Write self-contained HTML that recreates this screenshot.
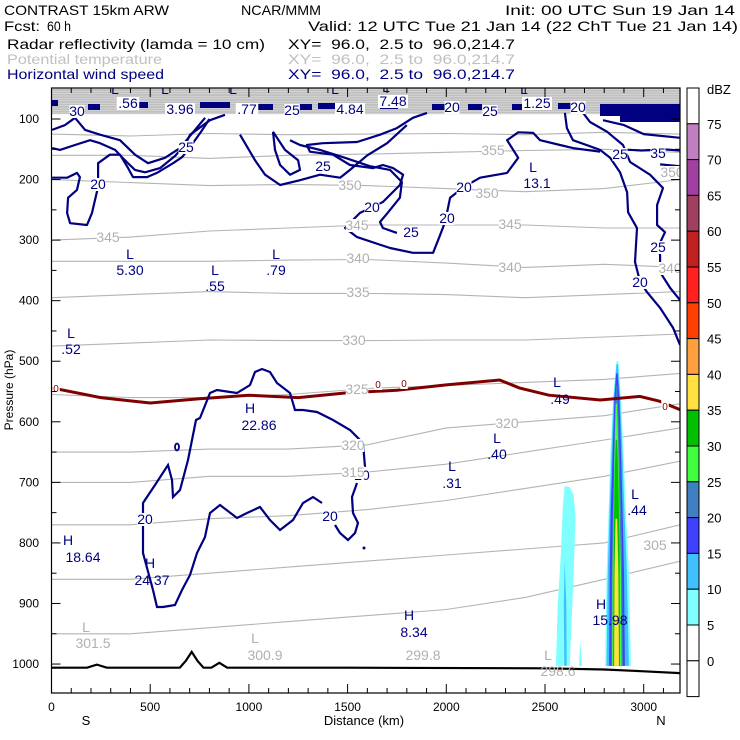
<!DOCTYPE html>
<html><head><meta charset="utf-8">
<style>
html,body{margin:0;padding:0;background:#fff;}
svg{display:block;font-family:"Liberation Sans",sans-serif;}
text{white-space:pre;}
</style></head>
<body>
<svg id="chart" width="740" height="740" viewBox="0 0 740 740" xmlns="http://www.w3.org/2000/svg" xml:space="preserve">
  <g font-size="14">
    <text x="4" y="15" textLength="165" lengthAdjust="spacingAndGlyphs">CONTRAST 15km ARW</text>
    <text x="241" y="15" textLength="80" lengthAdjust="spacingAndGlyphs">NCAR/MMM</text>
    <text x="505" y="15" textLength="230" lengthAdjust="spacingAndGlyphs">Init: 00 UTC Sun 19 Jan 14</text>
    <text x="4" y="31" textLength="36" lengthAdjust="spacingAndGlyphs">Fcst:</text>
    <text x="47" y="31" textLength="24" lengthAdjust="spacingAndGlyphs">60 h</text>
    <text x="308" y="31" textLength="430" lengthAdjust="spacingAndGlyphs">Valid: 12 UTC Tue 21 Jan 14 (22 ChT Tue 21 Jan 14)</text>
    <text x="7" y="49" textLength="258" lengthAdjust="spacingAndGlyphs">Radar reflectivity (lamda = 10 cm)</text>
    <text x="288" y="49" textLength="227" lengthAdjust="spacingAndGlyphs">XY=  96.0,  2.5 to  96.0,214.7</text>
    <text x="7" y="64" fill="#c0c0c0" textLength="155" lengthAdjust="spacingAndGlyphs">Potential temperature</text>
    <text x="288" y="64" fill="#c0c0c0" textLength="227" lengthAdjust="spacingAndGlyphs">XY=  96.0,  2.5 to  96.0,214.7</text>
    <text x="7" y="79" fill="#000080" textLength="157" lengthAdjust="spacingAndGlyphs">Horizontal wind speed</text>
    <text x="288" y="79" fill="#000080" textLength="227" lengthAdjust="spacingAndGlyphs">XY=  96.0,  2.5 to  96.0,214.7</text>
  </g>
  <g id="plot"></g>
</svg>
<script>
// ---- data ----
const xTicks = [0,500,1000,1500,2000,2500,3000];
const yTicks = [100,200,300,400,500,600,700,800,900,1000];
const thetaKm = [0,400,800,1200,1600,2000,2400,2800,3185];
const thetaValues = [360,355,350,345,340,335,330,325,320,315,310,305,300];
const theta360 = [125,128,124,126,125,124,126,122,125];
const theta355 = [160,160,165,160,158,155,152,150,155];
const theta350 = [200,205,210,208,210,215,220,215,200];
const theta345 = [300,295,285,280,275,275,275,280,280];
const theta340 = [335,335,335,333,332,338,345,340,345];
const theta335 = [395,390,385,388,388,390,395,390,385];
const theta330 = [475,470,465,466,466,465,465,460,455];
const theta325 = [555,560,560,555,545,540,535,530,520];
const theta320 = [650,650,645,645,638,610,600,590,570];
const theta315 = [700,700,690,690,683,670,650,630,610];
const theta310 = [770,770,760,755,745,730,710,690,665];
const theta305 = [860,860,850,840,830,820,810,800,770];
const theta300 = [950,950,940,930,920,910,890,860,830];
const thetaSeries = [theta360,theta355,theta350,theta345,theta340,theta335,theta330,theta325,theta320,theta315,theta310,theta305,theta300];
const topBandP = [50,54,58,62,66,70,74,78,82,86,90];

const freezeKm = [0,250,500,750,1000,1250,1500,1750,2000,2270,2370,2520,2780,2980,3080,3185];
const freezeP  = [544,560,569,562,556,560,552,548,539,531,544,556,564,558,566,580];

const sfcKm = [0,180,230,280,650,680,710,740,770,810,850,890,1500,2500,2800,3000,3185];
const sfcP  = [1006,1006,1001,1006,1006,995,980,995,1006,1006,998,1006,1006,1007,1009,1012,1015];

const windW1 = [[3,197],[79,197],[129,189],[144,196],[129,217],[84,230],[79,255],[94,272],[180,275],[205,255],[236,212],[236,173],[296,159],[347,159],[388,181],[413,196],[484,196],[534,189],[616,173],[661,163],[692,151],[760,120],[800,100]];
const windW2 = [[3,148],[43,151],[119,143],[195,135],[246,140],[322,151],[372,168],[423,184],[474,188],[550,181],[626,161],[676,143],[702,126],[803,102],[879,93]];
const windW3 = [[3,118],[68,110],[119,98],[170,118],[246,126],[347,135],[423,159],[489,173],[575,164],[651,148],[727,118],[778,98]];
const windLoop = [[1122,121],[1183,151],[1249,168],[1259,184],[1208,192],[1158,176],[1132,151],[1122,121]];
const windM3 = [[955,126],[1031,168],[1082,192],[1158,209],[1259,201],[1360,192],[1462,197],[1512,184],[1600,160],[1700,140],[1800,110]];
const windM1 = [[1902,90],[1831,98],[1750,115],[1664,126],[1548,138],[1375,140],[1294,143],[1309,154],[1426,159],[1512,176],[1629,181],[1679,176],[1730,181],[1781,192],[1765,209],[1679,237],[1563,255],[1487,280],[1548,295],[1715,313],[1831,321],[1933,321],[1968,292],[1994,270],[2019,230],[2090,212],[2171,197],[2308,189],[2364,164],[2308,135],[2364,122],[2440,123],[2475,135],[2576,143],[2642,148],[2779,154]];
const windM2 = [[1750,288],[1679,280],[1664,270],[1705,254],[1765,230],[1775,204],[1715,184],[1613,178],[1487,164],[1360,151],[1259,143],[1208,135]];
const windR20 = [[2601,90],[2611,115],[2642,135],[2779,151],[2830,164],[2880,188],[2916,221],[2921,254],[2966,280],[2956,336],[2982,369],[3017,386],[3083,412],[3149,445],[3184,473]];
const windR25 = [[2693,90],[2728,105],[2814,121],[2895,143],[2931,171],[3032,192],[3098,214],[3068,242],[3068,275],[3108,287],[3073,311],[3083,325],[3083,353],[3134,379],[3184,399]];
const windR30 = [[2794,102],[2900,110],[3000,125],[3184,131]];
const windR35 = [[2880,150],[2990,152],[3100,150],[3184,152]];
const windR40 = [[3083,175],[3184,178]];
const windMid = [[153,590],[143,553],[143,503],[155,485],[168,465],[172,480],[173,497],[180,490],[188,460],[196,420],[200,418],[210,393],[217,390],[230,392],[237,393],[250,385],[255,372],[262,369],[270,372],[277,383],[290,393],[295,410],[303,410],[317,412],[333,420],[350,430],[363,443],[365,467]];
const windMid2 = [[357,483],[352,497],[353,513],[358,523],[355,533],[348,540],[340,533],[335,525]];
const windMid3 = [[322,503],[313,497],[303,503],[293,520],[280,530],[270,520],[260,507],[247,513],[237,518],[220,505],[210,513],[205,537],[197,553],[190,575],[182,590],[175,605],[163,607],[157,607],[153,590]];

const dbzLevels = [5,10,15,20,25,30,35];
const dbzColors = ["#80ffff","#40c0ff","#4040ff","#4080c0","#40ff40","#00c000","#ffe040"];
const cell5  = [[2862,500],[2845,560],[2832,650],[2822,750],[2812,850],[2805,1003],[2935,1003],[2925,850],[2910,750],[2898,650],[2885,560],[2872,500]];
const cell10 = [[2862,505],[2848,560],[2837,650],[2827,750],[2818,850],[2812,1003],[2925,1003],[2915,850],[2902,750],[2892,650],[2880,560],[2870,505]];
const cell15 = [[2860,520],[2852,560],[2843,650],[2833,750],[2828,850],[2825,1003],[2905,1003],[2900,850],[2893,750],[2885,650],[2877,560],[2868,520]];
const cell20 = [[2860,540],[2853,600],[2847,700],[2840,800],[2835,1003],[2895,1003],[2890,800],[2882,700],[2875,600],[2866,540]];
const cell25 = [[2858,570],[2852,650],[2847,750],[2842,850],[2840,1003],[2888,1003],[2885,850],[2878,750],[2872,650],[2865,570]];
const cell30 = [[2858,630],[2852,700],[2848,800],[2845,1003],[2880,1003],[2878,800],[2872,700],[2866,630]];
const cell35 = [[2857,760],[2852,850],[2850,1003],[2875,1003],[2872,850],[2866,760]];
const cells = [cell5,cell10,cell15,cell20,cell25,cell30,cell35];
const plume5 = [[2600,706],[2590,740],[2580,820],[2565,900],[2555,1003],[2625,1003],[2632,950],[2645,850],[2655,760],[2645,720],[2625,708]];
const plume10 = [[2600,830],[2595,900],[2598,1003],[2610,1003],[2608,900]];
const plumeSmall = [[2678,960],[2672,1003],[2688,1003]];

const cbLevels = [75,70,65,60,55,50,45,40,35,30,25,20,15,10,5,0];
const cbColors = ["#ffffff","#c080c0","#a040a0","#a04060","#c02020","#ff2020","#ff4000","#ffa040","#ffe040","#00c000","#40ff40","#4080c0","#4040ff","#40c0ff","#80ffff","#ffffff","#ffffff"];

// ---- scales ----
const X = km => 51.5 + km*0.1974;
const Y = p => 119 + (p-100)*0.6056;
const L = 51.5, R = 680, T = 88, B = 693;
const NS = "http://www.w3.org/2000/svg";
const plot = document.getElementById('plot');
function mk(tag, attrs, parent){ const e=document.createElementNS(NS,tag); for(const k in attrs) e.setAttribute(k,attrs[k]); (parent||plot).appendChild(e); return e; }
function ptsStr(arr){ return arr.map(d=>X(d[0]).toFixed(1)+","+Y(d[1]).toFixed(1)).join(" "); }

const defs = mk('defs',{});
const cp = mk('clipPath',{id:'clip'},defs);
mk('rect',{x:L,y:T,width:R-L,height:B-T},cp);
const g = mk('g',{'clip-path':'url(#clip)'});



// top gray band
const band = mk('rect',{x:L,y:T,width:R-L,height:Y(92)-T,fill:'#c0c0c0'},g);


topBandP.forEach(p=>{
  const ln = mk('line',{x1:L,x2:R,y1:Y(p),y2:Y(p)+1,stroke:'#e4e4e4','stroke-width':0.5},g);
  
  
});

thetaSeries.forEach((s,i)=>{
  const pl = mk('polyline',{points:ptsStr(thetaKm.map((k,j)=>[k,s[j]])),fill:'none',stroke:'#b4b4b4','stroke-width':1.1},g);
  
  
});

[plume5,plume10,plumeSmall].forEach((poly,i)=>{
  const e = mk('polygon',{points:ptsStr(poly),fill:i===1?dbzColors[1]:dbzColors[0]},g);
  
  
});
cells.forEach((poly,i)=>{
  const e = mk('polygon',{points:ptsStr(poly),fill:dbzColors[i]},g);
  
  
});

const fz = mk('polyline',{points:ptsStr(freezeKm.map((k,i)=>[k,freezeP[i]])),fill:'none',stroke:'#800000','stroke-width':3},g);



[windW1,windW2,windW3,windLoop,windM3,windM1,windM2,windR20,windR25,windR30,windR35,windR40].forEach(c=>{
  const e = mk('polyline',{points:ptsStr(c),fill:'none',stroke:'#000080','stroke-width':2.2,'stroke-linejoin':'round'},g);
  
  
});
const pxToKm = x => (x-51.5)/0.1974, pxToP = y => 100+(y-119)/0.6056;
[windMid,windMid2,windMid3].forEach(c=>{
  const e = mk('polyline',{points:ptsStr(c.map(d=>[pxToKm(d[0]),pxToP(d[1])])),fill:'none',stroke:'#000080','stroke-width':2.2},g);
  
  
});
const dot1 = mk('ellipse',{cx:177,cy:447,rx:2,ry:3.5,fill:'none',stroke:'#000080','stroke-width':1.8},g);


const dot2 = mk('circle',{cx:364,cy:548,r:1.5,fill:'#000080'},g);



const navyBars = [[52,100,6],[88,104,12],[132,102,16],[200,102,30],[257,104,16],[300,104,12],[318,103,18],[380,103,18],[432,104,16],[468,104,14],[512,104,14],[558,103,14],[600,104,80],[600,110,80],[620,116,60]];
navyBars.forEach(b=>{
  const e = mk('rect',{x:b[0],y:b[1],width:b[2],height:6,fill:'#000080'},g);
  
  
});

const sfc = mk('polyline',{points:ptsStr(sfcKm.map((k,i)=>[k,sfcP[i]])),fill:'none',stroke:'#000','stroke-width':2.2},g);



function lab(x,y,t,col,name,bg,size){
  if(bg){ const w=t.length*7.5; const r=mk('rect',{x:x-w/2,y:y-11,width:w,height:13,fill:bg},g);
      }
  const e = mk('text',{x:x,y:y,'text-anchor':'middle','font-size':size||14,fill:col},g);
  e.textContent=t;
  
  
}
const NV='#000080', GR='#b0b0b0';
[[77,116,"30"],[128,108,".56"],[180,114,"3.96"],[247,114,".77"],[292,115,"25"],[350,114,"4.84"],[393,106,"7.48"],[452,112,"20"],[490,116,"25"],[537,108,"1.25"],[578,112,"20"]].forEach(d=>lab(d[0],d[1],d[2],NV,'top-band-label','#fff'));
[[115,94],[165,94],[233,94],[335,94],[386,92],[524,94]].forEach(d=>lab(d[0],d[1],"L",NV,'low-marker'));
[[98,189,"20"],[186,152,"25"],[323,171,"25"],[372,212,"20"],[411,237,"25"],[447,223,"20"],[464,192,"20"],[620,159,"25"],[658,158,"35"],[658,252,"25"],[640,287,"20"],[145,524,"20"],[330,521,"20"],[362,480,"20"]].forEach(d=>lab(d[0],d[1],d[2],NV,'wind-contour-label','#fff'));
[[130,259,"L"],[130,275,"5.30"],[215,275,"L"],[215,291,".55"],[276,259,"L"],[276,275,".79"],[71,338,"L"],[71,354,".52"],[250,413,"H"],[259,430,"22.86"],[497,443,"L"],[497,459,".40"],[452,471,"L"],[452,488,".31"],[557,387,"L"],[560,404,".49"],[635,499,"L"],[637,515,".44"],[68,545,"H"],[83,562,"18.64"],[150,568,"H"],[152,585,"24.37"],[409,620,"H"],[414,637,"8.34"],[601,609,"H"],[610,625,"15.98"],[533,172,"L"],[537,188,"13.1"]].forEach(d=>lab(d[0],d[1],d[2],NV,'extremum-label'));
[[86,632,"L"],[93,648,"301.5"],[255,643,"L"],[265,660,"300.9"],[423,660,"299.8"],[548,660,"L"],[558,676,"298.6"]].forEach(d=>lab(d[0],d[1],d[2],GR,'theta-extremum-label'));
[[108,242,"345"],[350,190,"350"],[493,155,"355"],[487,198,"350"],[357,230,"345"],[510,229,"345"],[358,263,"340"],[510,272,"340"],[358,297,"335"],[354,345,"330"],[507,428,"320"],[353,450,"320"],[353,477,"315"],[655,550,"305"],[670,273,"340"],[672,177,"350"],[357,394,"325"]].forEach(d=>lab(d[0],d[1],d[2],GR,'isentrope-label','#fff'));
[[56,392],[378,388],[404,387],[665,410]].forEach(d=>lab(d[0],d[1],"0",'#800000','freezing-label','#fff',10));

const fr = mk('rect',{x:L,y:T,width:R-L,height:B-T,fill:'none',stroke:'#000','stroke-width':1.2});


for(let k=0;k<=3100;k+=100){
  const len = k%500===0?9:5;
  const t1 = mk('line',{x1:X(k),x2:X(k),y1:B,y2:B-len,stroke:'#000'});
  
  
  const t2 = mk('line',{x1:X(k),x2:X(k),y1:T,y2:T+len,stroke:'#000'});
  
  
}
xTicks.forEach(k=>{
  const e = mk('text',{x:X(k),y:711,'text-anchor':'middle','font-size':12});
  e.textContent=k;
  
  
});
for(let p=100;p<=1000;p+=50){
  const len = p%100===0?9:5;
  const t1 = mk('line',{x1:L,x2:L+len,y1:Y(p),y2:Y(p),stroke:'#000'});
  
  
  const t2 = mk('line',{x1:R,x2:R-len,y1:Y(p),y2:Y(p),stroke:'#000'});
  
  
}
yTicks.forEach(p=>{
  const e = mk('text',{x:39,y:Y(p)+4,'text-anchor':'end','font-size':12});
  e.textContent=p;
  
  
});
const yt = mk('text',{x:0,y:0,transform:'translate(13,390) rotate(-90)','text-anchor':'middle','font-size':12});
yt.textContent='Pressure (hPa)';


const xt = mk('text',{x:364,y:725,'text-anchor':'middle','font-size':13});
xt.textContent='Distance (km)';


const sl = mk('text',{x:86,y:725,'text-anchor':'middle','font-size':13}); sl.textContent='S';


const nl = mk('text',{x:661,y:725,'text-anchor':'middle','font-size':13}); nl.textContent='N';



const segH = 35.8, cbTop = 88;
cbColors.forEach((c,i)=>{
  const e = mk('rect',{x:687,y:cbTop+i*segH,width:12,height:segH,fill:c,stroke:'#000','stroke-width':1});
  
  
});
cbLevels.forEach((v,i)=>{
  const e = mk('text',{x:707,y:cbTop+(i+1)*segH+5,'font-size':13});
  e.textContent=v;
  
  
});
const du = mk('text',{x:707,y:94,'font-size':13}); du.textContent='dBZ';


</script>
</body></html>
